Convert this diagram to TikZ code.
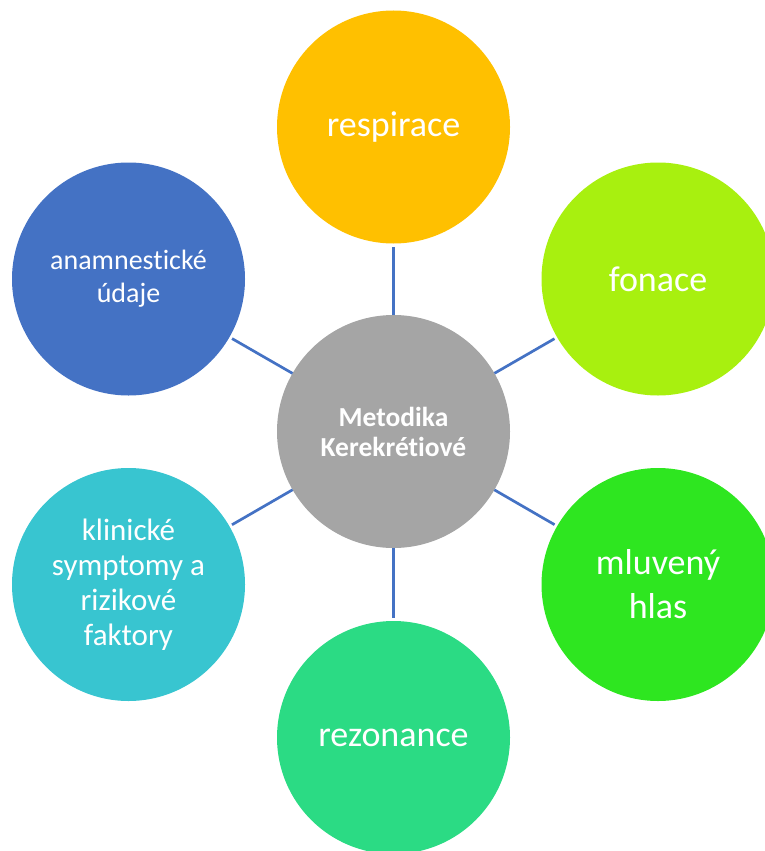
\documentclass[tikz,border=0pt]{standalone}
\usepackage{fontspec}
\setmainfont{Carlito}[Ligatures={NoCommon,NoContextual}]
\definecolor{cgray}{HTML}{A5A5A5}
\definecolor{cyellow}{HTML}{FFC000}
\definecolor{clime}{HTML}{A8F00F}
\definecolor{cgreen}{HTML}{2EE620}
\definecolor{cmint}{HTML}{2BDB84}
\definecolor{ccyan}{HTML}{38C5D0}
\definecolor{cblue}{HTML}{4472C4}
\begin{document}
\begin{tikzpicture}[x=1pt,y=-1pt,
  bub/.style={circle,minimum size=233pt,inner sep=0pt,outer sep=0pt,text=white,align=center},
  big/.style={font=\fontsize{36}{44}\selectfont},
  link/.style={draw=cblue,line width=2.7pt,shorten >=3pt}]
\useasboundingbox (0,0) rectangle (765,851);
\clip (0,0) rectangle (765,851);
\node[bub,fill=cgray,font=\bfseries\fontsize{27.5}{30}\selectfont] (c) at (393.5,431.5) {Metodika\\Kerekrét\kern0ptiové};
\node[bub,fill=cyellow,big] (t) at (393.5,127) {respirace};
\node[bub,fill=clime,big] (ur) at (658,279) {fonace};
\node[bub,fill=cgreen,big] (lr) at (658,584.5) {mluvený\\hlas};
\node[bub,fill=cmint,big] (b) at (393.5,737.5) {rezonance};
\node[bub,fill=ccyan,font=\fontsize{31}{35}\selectfont] (ll) at (128.5,584.5) {klinické\\symptomy a\\rizikové\\faktory};
\node[bub,fill=cblue,font=\fontsize{28}{33}\selectfont] (ul) at (128.5,279) {anamnest\kern0ptické\\údaje};
\foreach \n in {t,ur,lr,b,ll,ul} \draw[link] (c) -- (\n);
\end{tikzpicture}
\end{document}
